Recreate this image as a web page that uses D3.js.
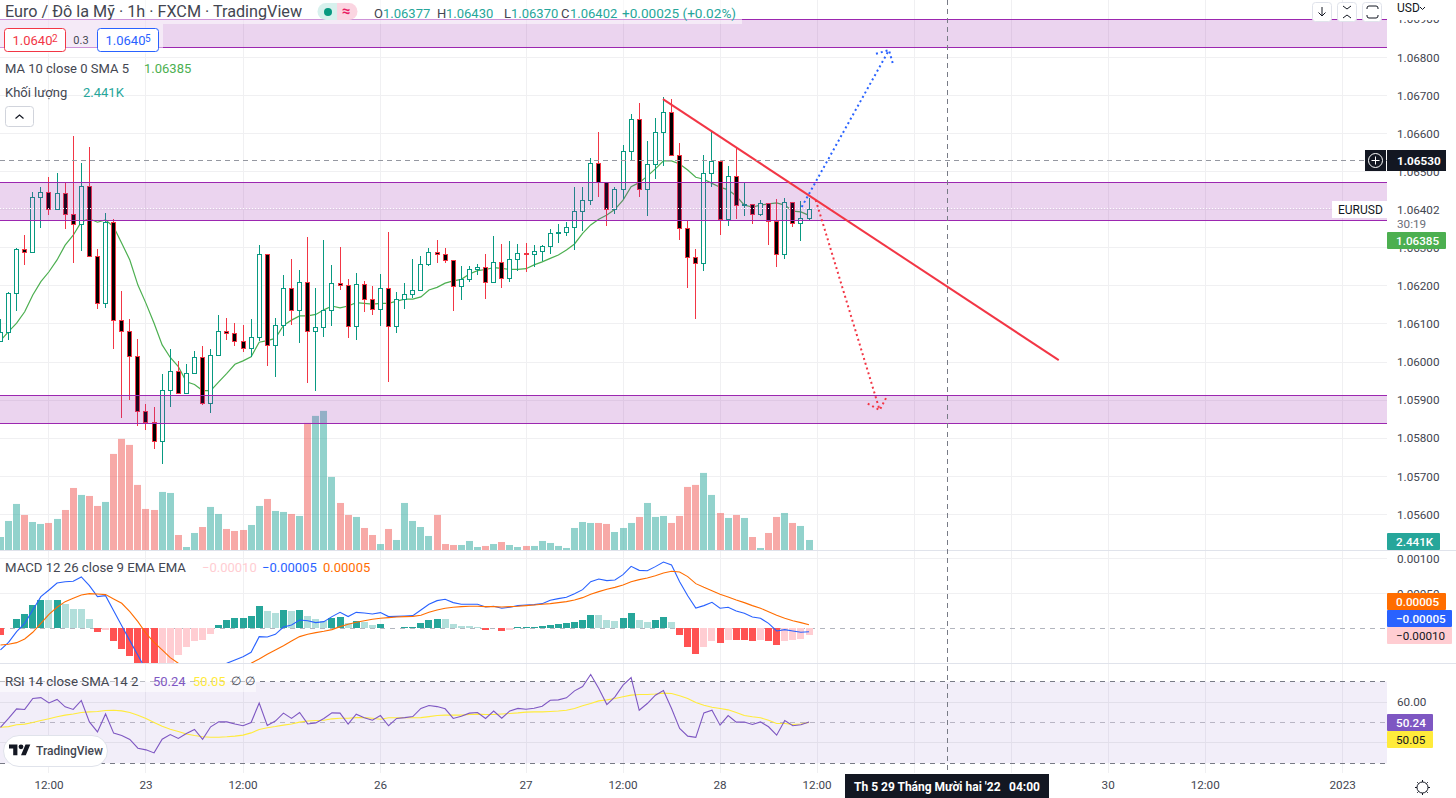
<!DOCTYPE html>
<html>
<head>
<meta charset="utf-8">
<script src="https://cdn.jsdelivr.net/npm/d3@7"></script>
<style>
    html, body { margin: 0; padding: 0; background: #fff; overflow: hidden; }
    svg { display: block; font-family: Roboto, "Noto Sans", sans-serif; }
</style>
</head>
<body>
<div id="chart"></div>
<script>
// hourly EURUSD candles
const opens = [
    1.06056,1.06078,1.06180,1.06296,1.06288,1.06432,1.06446,1.06401,1.06443,1.06388,
    1.06362,1.06461,1.06278,1.06154,1.06367,1.06110,1.06081,1.06015,1.05871,1.05842,
    1.05792,1.05926,1.05976,1.05918,1.05970,1.06012,1.05892,1.06018,1.06081,1.06075,
    1.06054,1.06036,1.06065,1.06283,1.06044,1.06096,1.06194,1.06136,1.06209,1.06081,
    1.06091,1.06136,1.06207,1.06201,1.06094,1.06204,1.06165,1.06138,1.06194,1.06094,
    1.06165,1.06178,1.06188,1.06257,1.06288,1.06283,1.06267,1.06199,1.06217,1.06243,
    1.06249,1.06209,1.06262,1.06220,1.06270,1.06285,1.06283,1.06291,1.06304,1.06338,
    1.06341,1.06354,1.06396,1.06425,1.06522,1.06472,1.06401,1.06453,1.06553,1.06637,
    1.06453,1.06519,1.06603,1.06656,1.06543,1.06351,1.06275,1.06259,1.06495,1.06527,
    1.06375,1.06488,1.06411,1.06414,1.06388,1.06417,1.06369,1.06283,1.06419,1.06364,
    1.06377
];
const closes = [
    1.06078,1.06180,1.06297,1.06288,1.06432,1.06446,1.06402,1.06443,1.06388,1.06362,
    1.06461,1.06278,1.06154,1.06367,1.06110,1.06081,1.06015,1.05871,1.05842,1.05792,
    1.05926,1.05976,1.05918,1.05970,1.06012,1.05892,1.06018,1.06081,1.06075,1.06054,
    1.06036,1.06065,1.06283,1.06044,1.06096,1.06194,1.06136,1.06209,1.06081,1.06091,
    1.06136,1.06207,1.06201,1.06094,1.06204,1.06165,1.06138,1.06194,1.06094,1.06165,
    1.06178,1.06188,1.06257,1.06288,1.06283,1.06267,1.06199,1.06217,1.06243,1.06249,
    1.06209,1.06262,1.06220,1.06270,1.06285,1.06283,1.06291,1.06304,1.06338,1.06341,
    1.06354,1.06396,1.06425,1.06522,1.06472,1.06401,1.06453,1.06553,1.06637,1.06453,
    1.06519,1.06603,1.06656,1.06543,1.06351,1.06275,1.06259,1.06495,1.06527,1.06375,
    1.06488,1.06411,1.06414,1.06388,1.06417,1.06369,1.06283,1.06419,1.06364,1.06377,
    1.06402
];
const highs = [
    1.06113,1.06184,1.06299,1.06333,1.06446,1.06459,1.06486,1.06496,1.06471,1.06593,
    1.06522,1.06564,1.06297,1.06391,1.06375,1.06186,1.06112,1.06060,1.05889,1.05881,
    1.05968,1.06033,1.06002,1.05995,1.06028,1.06041,1.06033,1.06123,1.06115,1.06102,
    1.06096,1.06112,1.06306,1.06283,1.06116,1.06228,1.06270,1.06241,1.06327,1.06194,
    1.06320,1.06254,1.06301,1.06217,1.06233,1.06212,1.06199,1.06230,1.06341,1.06183,
    1.06207,1.06270,1.06278,1.06299,1.06320,1.06299,1.06267,1.06252,1.06252,1.06257,
    1.06283,1.06330,1.06309,1.06317,1.06309,1.06312,1.06306,1.06306,1.06348,1.06362,
    1.06367,1.06459,1.06459,1.06535,1.06603,1.06472,1.06459,1.06569,1.06650,1.06679,
    1.06579,1.06640,1.06695,1.06690,1.06574,1.06369,1.06296,1.06543,1.06606,1.06530,
    1.06514,1.06564,1.06469,1.06414,1.06425,1.06417,1.06427,1.06430,1.06419,1.06422,
    1.06430
];
const lows = [
    1.06053,1.06058,1.06134,1.06255,1.06288,1.06353,1.06387,1.06401,1.06350,1.06261,
    1.06292,1.06278,1.06140,1.06143,1.06035,1.05854,1.05901,1.05833,1.05822,1.05772,
    1.05733,1.05883,1.05918,1.05918,1.05970,1.05888,1.05867,1.06018,1.06058,1.06042,
    1.06027,1.06014,1.06056,1.05990,1.05961,1.06068,1.06098,1.06051,1.05946,1.05925,
    1.06066,1.06095,1.06189,1.06063,1.06059,1.06132,1.06124,1.06095,1.05948,1.06077,
    1.06140,1.06169,1.06186,1.06252,1.06259,1.06259,1.06135,1.06163,1.06209,1.06229,
    1.06165,1.06209,1.06195,1.06211,1.06238,1.06237,1.06249,1.06264,1.06284,1.06312,
    1.06331,1.06294,1.06343,1.06412,1.06433,1.06357,1.06388,1.06427,1.06528,1.06433,
    1.06383,1.06480,1.06515,1.06543,1.06320,1.06194,1.06113,1.06239,1.06459,1.06333,
    1.06357,1.06375,1.06383,1.06362,1.06383,1.06307,1.06249,1.06270,1.06354,1.06318,
    1.06370
];
const maValues = [
    1.06056,1.06080,1.06102,1.06132,1.06176,1.06211,1.06237,1.06268,1.06307,1.06333,
    1.06368,1.06376,1.06367,1.06373,1.06355,1.06312,1.06268,1.06202,1.06154,1.06102,
    1.06045,1.06012,1.05988,1.05948,1.05941,1.05925,1.05925,1.05948,1.05970,1.05994,
    1.06003,1.06014,1.06052,1.06056,1.06062,1.06096,1.06110,1.06121,1.06121,1.06125,
    1.06137,1.06147,1.06142,1.06147,1.06156,1.06154,1.06152,1.06154,1.06154,1.06160,
    1.06165,1.06165,1.06171,1.06189,1.06196,1.06207,1.06213,1.06217,1.06231,1.06240,
    1.06243,1.06248,1.06246,1.06243,1.06243,1.06245,1.06255,1.06263,1.06272,1.06281,
    1.06294,1.06310,1.06338,1.06360,1.06375,1.06386,1.06401,1.06425,1.06460,1.06471,
    1.06488,1.06507,1.06528,1.06528,1.06520,1.06504,1.06485,1.06480,1.06469,1.06459,
    1.06452,1.06436,1.06412,1.06407,1.06412,1.06415,1.06418,1.06412,1.06396,1.06394,
    1.06385
];
// volume in thousands
const volumes = [
    3.17,7.08,11.23,8.54,6.83,6.35,6.59,7.57,9.76,15.13,
    13.43,13.18,10.74,11.72,23.43,27.10,25.63,15.87,10.01,9.76,
    14.16,13.91,3.66,0.73,4.15,5.61,10.50,8.79,5.13,4.64,
    4.88,6.10,10.74,12.45,9.52,9.28,8.79,8.30,31.00,32.71,
    33.93,17.82,11.47,8.54,8.06,5.37,3.66,1.46,5.13,2.44,
    11.47,7.08,5.61,3.42,8.54,1.46,1.22,1.22,2.20,0.73,
    0.98,1.46,1.95,1.22,0.73,0.98,0.98,2.20,1.71,0.98,
    0.49,5.37,6.83,6.59,6.59,6.35,4.39,5.37,6.59,8.06,
    11.47,8.06,8.30,6.59,8.30,15.38,15.87,18.80,13.43,9.03,
    7.81,8.54,7.81,3.17,0.49,4.15,8.06,9.03,6.59,5.86,
    2.441
];
const macdLine = [
    -0.000309,-0.000200,-0.000048,0.000071,0.000262,0.000452,0.000547,0.000647,0.000666,0.000671,
    0.000733,0.000609,0.000452,0.000466,0.000252,0.000038,-0.000176,-0.000386,-0.000595,-0.000738,
    -0.000833,-0.000904,-0.000976,-0.001000,-0.000976,-0.000904,-0.000785,-0.000643,-0.000500,-0.000452,
    -0.000405,-0.000343,-0.000119,-0.000124,-0.000086,0.000019,0.000048,0.000119,0.000109,0.000081,
    0.000095,0.000167,0.000228,0.000167,0.000228,0.000219,0.000205,0.000224,0.000167,0.000171,
    0.000176,0.000181,0.000262,0.000343,0.000395,0.000414,0.000367,0.000343,0.000343,0.000343,
    0.000305,0.000314,0.000286,0.000300,0.000324,0.000333,0.000338,0.000352,0.000400,0.000424,
    0.000443,0.000495,0.000552,0.000666,0.000704,0.000681,0.000690,0.000766,0.000885,0.000828,
    0.000823,0.000881,0.000947,0.000904,0.000666,0.000466,0.000290,0.000324,0.000371,0.000286,
    0.000300,0.000248,0.000214,0.000162,0.000143,0.000071,-0.000038,-0.000019,-0.000038,-0.000057,
    -0.00005
];
const macdSignal = [
    -0.000238,-0.000228,-0.000205,-0.000152,-0.000057,0.000071,0.000200,0.000300,0.000381,0.000428,
    0.000476,0.000495,0.000490,0.000481,0.000419,0.000357,0.000238,0.000095,-0.000071,-0.000200,
    -0.000309,-0.000419,-0.000500,-0.000571,-0.000628,-0.000676,-0.000704,-0.000704,-0.000666,-0.000619,
    -0.000557,-0.000500,-0.000438,-0.000371,-0.000309,-0.000248,-0.000181,-0.000119,-0.000086,-0.000062,
    -0.000043,-0.000019,0.000024,0.000057,0.000086,0.000109,0.000129,0.000143,0.000152,0.000162,
    0.000167,0.000171,0.000186,0.000228,0.000262,0.000286,0.000300,0.000309,0.000314,0.000314,
    0.000309,0.000309,0.000305,0.000309,0.000314,0.000324,0.000333,0.000343,0.000352,0.000367,
    0.000381,0.000405,0.000438,0.000486,0.000524,0.000557,0.000585,0.000619,0.000666,0.000695,
    0.000719,0.000752,0.000790,0.000814,0.000804,0.000738,0.000638,0.000585,0.000538,0.000486,
    0.000447,0.000405,0.000367,0.000324,0.000286,0.000238,0.000186,0.000143,0.000109,0.000081,
    0.00005
];
const macdHist = [
    -0.000095,0.000005,0.000133,0.000205,0.000333,0.000405,0.000403,0.000405,0.000348,0.000276,
    0.000274,0.000133,-0.000048,-0.000024,-0.000180,-0.000295,-0.000395,-0.000540,-0.000560,-0.000580,
    -0.000520,-0.000500,-0.000380,-0.000267,-0.000180,-0.000167,-0.000080,0.000048,0.000119,0.000148,
    0.000150,0.000176,0.000319,0.000248,0.000219,0.000260,0.000248,0.000260,0.000176,0.000133,
    0.000105,0.000148,0.000162,0.000076,0.000105,0.000090,0.000048,0.000062,0.000005,0.000007,
    0.000019,0.000020,0.000076,0.000119,0.000133,0.000130,0.000062,0.000033,0.000033,0.000019,
    -0.000024,0.000005,-0.000038,-0.000024,0.000019,0.000020,0.000021,0.000033,0.000048,0.000062,
    0.000076,0.000090,0.000119,0.000190,0.000188,0.000119,0.000105,0.000148,0.000219,0.000119,
    0.000090,0.000119,0.000162,0.000090,-0.000095,-0.000267,-0.000367,-0.000267,-0.000180,-0.000210,
    -0.000167,-0.000168,-0.000169,-0.000180,-0.000167,-0.000180,-0.000238,-0.000180,-0.000167,-0.000152,
    -0.00010
];
const rsiLine = [
    47.6,52.0,56.7,56.4,61.8,62.2,59.6,61.3,57.7,56.4,
    60.8,50.3,45.4,54.2,44.8,43.6,41.7,37.4,36.6,35.1,
    41.8,44.1,42.2,44.6,46.6,41.8,47.9,50.3,50.3,49.3,
    48.4,50.0,59.5,48.5,50.7,54.6,52.0,54.9,49.3,49.8,
    52.0,54.7,54.6,49.2,54.1,52.3,51.1,53.4,48.4,52.0,
    52.4,52.9,56.9,58.3,57.8,56.7,52.0,53.1,54.6,54.9,
    52.0,55.6,52.1,55.7,56.9,56.5,57.0,58.0,60.9,61.1,
    62.1,65.5,67.6,73.5,66.7,58.8,62.6,68.3,72.0,56.0,
    59.3,63.4,65.7,56.9,47.1,43.3,42.7,54.7,56.0,48.7,
    53.4,50.2,50.2,49.0,50.3,47.9,43.8,51.0,48.4,48.9,
    50.24
];
const rsiSma = [
    47.7,48.0,48.9,49.2,50.0,51.0,51.8,52.8,53.6,54.2,
    54.9,55.2,55.4,55.9,56.0,55.7,54.9,53.6,52.0,50.0,
    48.2,46.7,45.6,44.4,43.6,43.0,42.8,42.8,43.0,43.3,
    43.8,44.9,46.6,47.4,48.0,48.7,49.3,50.2,50.7,51.0,
    51.1,51.8,52.1,52.1,52.4,52.4,52.1,51.6,52.3,52.3,
    52.3,52.3,52.4,52.9,53.4,53.6,53.6,53.6,53.9,54.1,
    53.9,53.9,54.2,54.4,54.7,55.1,55.2,55.2,55.4,55.6,
    56.0,56.9,58.2,59.3,60.6,61.1,61.8,62.6,63.4,63.7,
    63.7,64.0,64.4,64.2,63.1,61.8,59.8,58.5,57.5,56.9,
    56.2,54.9,53.4,52.8,52.3,51.1,49.5,49.5,49.0,49.3,
    50.05
];

// axis ticks (the two blank labels sit behind the crosshair date box in the original)
const priceTicks = [1.069,1.068,1.067,1.066,1.065,1.063,1.062,1.061,1.06,1.059,1.058,1.057,1.056];
const timeTickIndex = [6,18,30,47,65,77,89,101,113,125,137,149,166];
const timeTickLabels = ["12:00","23","12:00","26","27","12:00","28","12:00","","","30","12:00","2023"];
const macdTicks = [0.001,0.0005];
const rsiTicks = [60,40];

// drawings on the chart: [bar index, price]
const zones = [[1.069,1.06826],[1.06472,1.06372],[1.05913,1.05839]];
const trendLine = [[82,1.0669],[130.95,1.06005]];
const longArrow = [[99.16,1.06407],[109.95,1.06819]];
const shortArrow = [[100.9,1.06425],[108.8,1.05874]];
const crosshairIndex = 117.13;
const crosshairPrice = 1.0653;
const lastPrice = 1.06402;

const WIDTH = 1456, HEIGHT = 798, PLOT_W = 1387;
const GRID = "#f0f0f2", SEP = "#e0e3eb", TXT = "#434651";
const GREEN = "#089981", RED = "#f23645";

const svg = d3.select("#chart").append("svg")
    .attr("width", WIDTH)
    .attr("height", HEIGHT);

const x = d3.scaleLinear().domain([0, 100]).range([-0.05, 808.5]);
const yPrice = d3.scaleLinear().domain([1.056, 1.068]).range([514.4, 57.3]);
const yVol = d3.scaleLinear().domain([0, 40]).range([550, 386]);
const yMacd = d3.scaleLinear().domain([0, 0.001]).range([628.3, 558.3]);
const yRsi = d3.scaleLinear().domain([30, 70]).range([763.3, 681.7]);

const bars = d3.range(opens.length);
const px = i => Math.round(x(i));   // candles sit on whole pixels

function clip(id, top, bottom) {
    svg.append("clipPath").attr("id", id).append("rect")
        .attr("x", 0).attr("y", top).attr("width", PLOT_W).attr("height", bottom - top);
}
clip("clip-main", 0, 550);
clip("clip-macd", 551, 663);
clip("clip-rsi", 664, 773);

function label(parent, tx, ty, str, opts) {
    opts = opts || {};
    return parent.append("text")
        .attr("x", tx)
        .attr("y", ty)
        .attr("dy", "0.35em")
        .attr("text-anchor", opts.anchor || "start")
        .attr("font-size", opts.size || 13)
        .attr("font-weight", opts.weight || 400)
        .attr("fill", opts.fill || TXT)
        .text(str);
}

function hline(parent, yy, color, dash, x1) {
    return parent.append("line")
        .attr("x1", x1 || 0).attr("x2", PLOT_W)
        .attr("y1", Math.floor(yy) + 0.5).attr("y2", Math.floor(yy) + 0.5)
        .attr("stroke", color)
        .attr("stroke-dasharray", dash || null);
}

// --- grid
const grid = svg.append("g").attr("class", "grid");
timeTickIndex.forEach(function(d) {
    grid.append("line")
        .attr("x1", px(d) + 0.5).attr("x2", px(d) + 0.5)
        .attr("y1", 0).attr("y2", 773)
        .attr("stroke", GRID);
});
priceTicks.forEach(d => hline(grid, yPrice(d), GRID));
hline(grid, yPrice(1.064), GRID);
macdTicks.forEach(d => hline(grid, yMacd(d), GRID));

// --- main pane
const main = svg.append("g").attr("clip-path", "url(#clip-main)");

main.append("g").selectAll("rect")
    .data(bars)
    .enter().append("rect")
    .attr("x", d => px(d) - 3)
    .attr("y", d => yVol(volumes[d]))
    .attr("width", 7)
    .attr("height", d => yVol(0) - yVol(volumes[d]))
    .attr("fill", d => closes[d] >= opens[d] ? "rgba(38,166,154,0.5)" : "rgba(239,83,80,0.5)");

main.append("path")
    .datum(bars)
    .attr("fill", "none")
    .attr("stroke", "#4caf50")
    .attr("stroke-width", 1.2)
    .attr("d", d3.line().x(d => x(d) + 0.5).y(d => yPrice(maValues[d])));

const candle = main.append("g").selectAll("g")
    .data(bars)
    .enter().append("g");

candle.append("rect")
    .attr("x", d => px(d))
    .attr("y", d => Math.round(yPrice(highs[d])))
    .attr("width", 1)
    .attr("height", d => Math.round(yPrice(lows[d])) - Math.round(yPrice(highs[d])))
    .attr("fill", d => closes[d] >= opens[d] ? GREEN : RED);

candle.append("rect")
    .attr("x", d => px(d) - 1.5)
    .attr("y", d => Math.round(yPrice(Math.max(opens[d], closes[d]))) + 0.5)
    .attr("width", 4)
    .attr("height", d => Math.max(1, Math.round(yPrice(Math.min(opens[d], closes[d]))) - Math.round(yPrice(Math.max(opens[d], closes[d])))))
    .attr("fill", d => closes[d] >= opens[d] ? "#fff" : "#000")
    .attr("stroke", d => closes[d] >= opens[d] ? GREEN : RED)
    .attr("stroke-width", 1);

// supply / demand zones
zones.forEach(function(z) {
    main.append("rect")
        .attr("x", 0).attr("width", PLOT_W)
        .attr("y", yPrice(z[0]))
        .attr("height", yPrice(z[1]) - yPrice(z[0]))
        .attr("fill", "rgba(156,39,176,0.2)");
    hline(main, yPrice(z[0]), "#9c27b0");
    hline(main, yPrice(z[1]), "#9c27b0");
});

// last price dots
hline(main, yPrice(lastPrice), "#fff", "1,2");

const toXY = d => [x(d[0]), yPrice(d[1])];

main.append("path")
    .attr("d", d3.line()(trendLine.map(toXY)))
    .attr("fill", "none")
    .attr("stroke", RED)
    .attr("stroke-width", 2);

function arrow(points, color) {
    const a = toXY(points[0]), b = toXY(points[1]);
    const ang = Math.atan2(a[1] - b[1], a[0] - b[0]);
    const head = s => [b[0] + 13.5 * Math.cos(ang + s), b[1] + 13.5 * Math.sin(ang + s)];
    main.append("path")
        .attr("d", d3.line()([a, b]) + d3.line()([head(Math.PI / 4), b, head(-Math.PI / 4)]))
        .attr("fill", "none")
        .attr("stroke", color)
        .attr("stroke-width", 2)
        .attr("stroke-dasharray", "2,3");
}
arrow(longArrow, "#2962ff");
arrow(shortArrow, RED);

// --- MACD pane
const macd = svg.append("g").attr("clip-path", "url(#clip-macd)");
hline(macd, yMacd(0), "#b2b5be", "5,5");

macd.append("g").selectAll("rect")
    .data(bars)
    .enter().append("rect")
    .attr("x", d => px(d) - 3)
    .attr("width", 7)
    .attr("y", d => Math.round(Math.min(yMacd(0), yMacd(macdHist[d]))))
    .attr("height", d => Math.abs(Math.round(yMacd(macdHist[d])) - Math.round(yMacd(0))))
    .attr("fill", function(d) {
        const v = macdHist[d], prev = d > 0 ? macdHist[d - 1] : 0;
        if (v >= 0) return v > prev ? "#26a69a" : "#b2dfdb";
        return v < prev ? "#ff5252" : "#ffcdd2";
    });

function seriesLine(parent, values, yScale, color) {
    parent.append("path")
        .datum(bars)
        .attr("fill", "none")
        .attr("stroke", color)
        .attr("stroke-width", 1.1)
        .attr("d", d3.line().x(d => x(d) + 0.5).y(d => yScale(values[d])));
}
seriesLine(macd, macdLine, yMacd, "#2962ff");
seriesLine(macd, macdSignal, yMacd, "#ff6d00");

// --- RSI pane
const rsi = svg.append("g").attr("clip-path", "url(#clip-rsi)");
rsi.append("rect")
    .attr("x", 0).attr("width", PLOT_W)
    .attr("y", yRsi(70))
    .attr("height", yRsi(30) - yRsi(70))
    .attr("fill", "rgba(126,87,194,0.1)");
rsiTicks.forEach(d => hline(rsi, yRsi(d), "#e2dfea"));
hline(rsi, yRsi(70), "#787b86", "5,5");
hline(rsi, yRsi(30), "#787b86", "5,5");
hline(rsi, yRsi(50), "#b8b5c4", "5,5");
seriesLine(rsi, rsiSma, yRsi, "#ffeb3b");
seriesLine(rsi, rsiLine, yRsi, "#7e57c2");

// --- pane separators
hline(svg, 550, SEP).attr("x2", WIDTH);
hline(svg, 663, SEP).attr("x2", WIDTH);

// --- crosshair
svg.append("line")
    .attr("x1", px(crosshairIndex) + 0.5).attr("x2", px(crosshairIndex) + 0.5)
    .attr("y1", 0).attr("y2", 773)
    .attr("stroke", "#787b86")
    .attr("stroke-dasharray", "5,4");
hline(svg, yPrice(crosshairPrice), "#9598a1", "5,4");

// --- axes
const priceAxis = svg.append("g")
    .attr("transform", "translate(1387,0)")
    .call(d3.axisRight(yPrice).tickValues(priceTicks).tickFormat(d3.format(".5f")).tickSize(0).tickPadding(10));
const macdAxis = svg.append("g")
    .attr("transform", "translate(1387,0)")
    .call(d3.axisRight(yMacd).tickValues(macdTicks).tickFormat(d3.format(".5f")).tickSize(0).tickPadding(10));
const rsiAxis = svg.append("g")
    .attr("transform", "translate(1387,0)")
    .call(d3.axisRight(yRsi).tickValues([60]).tickFormat(d3.format(".2f")).tickSize(0).tickPadding(10));
const timeAxis = svg.append("g")
    .attr("transform", "translate(0,779)")
    .call(d3.axisBottom(x).tickValues(timeTickIndex).tickFormat((d, i) => timeTickLabels[i]).tickSize(0).tickPadding(2));

[priceAxis, macdAxis, rsiAxis, timeAxis].forEach(function(ax) {
    ax.select(".domain").remove();
    ax.selectAll("text")
        .attr("font-family", "Roboto, 'Noto Sans', sans-serif")
        .attr("font-size", 11.7)
        .attr("fill", TXT);
});

// --- header legends
const legend = svg.append("g");
legend.append("rect").attr("x", 0).attr("y", 0).attr("width", 742).attr("height", 24).attr("fill", "rgba(255,255,255,0.5)");
legend.append("rect").attr("x", 0).attr("y", 24).attr("width", 163).attr("height", 30).attr("fill", "rgba(255,255,255,0.5)");
legend.append("rect").attr("x", 0).attr("y", 670).attr("width", 256).attr("height", 22).attr("fill", "rgba(255,255,255,0.5)");

label(legend, 5, 11, "Euro / Đô la Mỹ · 1h · FXCM · TradingView", { size: 16.2, fill: "#434651" });

legend.append("path")
    .attr("d", "M338,3H326a8.5,8.5 0 0 0 0,17H338Z")
    .attr("fill", "#d7f1ed");
legend.append("path")
    .attr("d", "M337,3H349a8.5,8.5 0 0 1 0,17H337Z")
    .attr("fill", "#fbd5e1");
legend.append("circle").attr("cx", 328).attr("cy", 12).attr("r", 4).attr("fill", GREEN);
label(legend, 346, 11, "≈", { size: 15, anchor: "middle", fill: "#e91e63", weight: 700 });

const ohlc = [["O", "1.06377", 374], ["H", "1.06430", 437], ["L", "1.06370", 504], ["C", "1.06402", 561]];
ohlc.forEach(function(d) {
    label(legend, d[2], 13, d[0], { fill: "#434651" });
    label(legend, d[2] + (d[0] == "L" ? 7 : 9), 13, d[1], { fill: "#26a69a" });
});
label(legend, 622, 13, "+0.00025 (+0.02%)", { size: 13.6, fill: "#26a69a" });

function quoteBox(bx, str, small, color) {
    legend.append("rect")
        .attr("x", bx + 0.5).attr("y", 28.5).attr("width", 61).attr("height", 23).attr("rx", 3)
        .attr("fill", "#fff").attr("stroke", color);
    label(legend, bx + 8.5, 40.5, str, { fill: color });
    label(legend, bx + 48, 38.5, small, { size: 10, fill: color });
}
quoteBox(4, "1.0640", "2", RED);
quoteBox(97, "1.0640", "5", "#2962ff");
label(legend, 81, 40.5, "0.3", { size: 11, anchor: "middle" });

label(legend, 5, 68, "MA 10 close 0 SMA 5");
label(legend, 144, 68, "1.06385", { fill: "#4caf50" });
label(legend, 5, 92, "Khối lượng");
label(legend, 83, 92, "2.441K", { fill: "#26a69a" });

legend.append("rect")
    .attr("x", 5.5).attr("y", 106.5).attr("width", 28).attr("height", 20).attr("rx", 3)
    .attr("fill", "#fff").attr("stroke", "#d1d4dc");
legend.append("path").attr("d", "M15.5,118.5l4,-3.5l4,3.5").attr("fill", "none").attr("stroke", "#131722").attr("stroke-width", 1.2);

label(legend, 5, 567, "MACD 12 26 close 9 EMA EMA", { size: 13.2 });
label(legend, 202, 567, "−0.00010", { fill: "#ffcdd2" });
label(legend, 262, 567, "−0.00005", { fill: "#2962ff" });
label(legend, 323, 567, "0.00005", { fill: "#ff6d00" });

label(legend, 5, 681, "RSI 14 close SMA 14 2", { size: 13.3 });
label(legend, 153, 681, "50.24", { fill: "#7e57c2" });
label(legend, 193, 681, "50.05", { fill: "#ffeb3b" });
label(legend, 231, 681, "∅", { size: 12, fill: "#434651" });
label(legend, 245, 681, "∅", { size: 12, fill: "#434651" });

// TradingView badge
const badge = svg.append("g");
badge.append("rect")
    .attr("x", 3.5).attr("y", 735.5).attr("width", 104).attr("height", 31).attr("rx", 15.5)
    .attr("fill", "#fff").attr("stroke", "#e0e3eb");
badge.append("path")
    .attr("transform", "translate(9,742) scale(0.6)")
    .attr("d", "M14 22H7V11H0V4h14v18zM28 22h-8l7.5-18h8L28 22z")
    .attr("fill", "#131722");
badge.append("circle")
    .attr("transform", "translate(9,742) scale(0.6)")
    .attr("cx", 20).attr("cy", 8).attr("r", 4)
    .attr("fill", "#131722");
label(badge, 36, 751, "TradingView", { size: 12, weight: 500 });

// --- right side price tags
const tags = svg.append("g");

function tag(top, w, str, bg, fg, weight) {
    tags.append("rect")
        .attr("x", 1387).attr("y", top).attr("width", w).attr("height", 17)
        .attr("rx", 1)
        .attr("fill", bg);
    label(tags, 1396, top + 8.5, str, { size: 11.7, fill: fg, weight: weight || 500 });
}

tags.append("rect").attr("x", 1387).attr("y", 0).attr("width", 69).attr("height", 20).attr("fill", "#fff");
label(tags, 1397, 8, "USD", { size: 12, fill: "#131722" });
tags.append("path").attr("d", "M1420,7l2.5,2.5l2.5,-2.5").attr("fill", "none").attr("stroke", "#131722");

// crosshair price with plus button
tags.append("rect").attr("x", 1365).attr("y", 150).attr("width", 21).attr("height", 21).attr("fill", "#131722");
tags.append("circle").attr("cx", 1375.5).attr("cy", 160.5).attr("r", 7).attr("fill", "none").attr("stroke", "#fff");
tags.append("path").attr("d", "M1375.5,156.5v8M1371.5,160.5h8").attr("stroke", "#fff");
tags.append("rect").attr("x", 1387).attr("y", 150).attr("width", 59).attr("height", 21).attr("fill", "#131722");
label(tags, 1397, 160.5, "1.06530", { size: 11.7, fill: "#fff", weight: 700 });

tags.append("rect").attr("x", 1332).attr("y", 201).attr("width", 55).attr("height", 17).attr("fill", "#fff");
label(tags, 1338, 209.5, "EURUSD", { size: 12, fill: "#131722" });
tags.append("rect").attr("x", 1387).attr("y", 201).attr("width", 59).attr("height", 30).attr("fill", "#fff");
label(tags, 1397, 209.5, "1.06402", { size: 11.7 });
label(tags, 1397, 224, "30:19", { size: 11.7, fill: "#6a6d78" });

tag(232, 59, "1.06385", "#4caf50", "#fff");
tag(533, 53, "2.441K", "#26a69a", "#fff");
tag(593, 59, "0.00005", "#ff6d00", "#fff");
tag(610, 65, "−0.00005", "#2962ff", "#fff");
tag(627, 65, "−0.00010", "#ffcdd2", "#131722", 400);
tag(714, 46, "50.24", "#7e57c2", "#fff");
tag(731, 46, "50.05", "#ffeb3b", "#131722", 400);

// corner buttons
[1312, 1337, 1362].forEach(function(bx) {
    tags.append("rect")
        .attr("x", bx + 0.5).attr("y", 2.5).attr("width", 19).attr("height", 19).attr("rx", 3)
        .attr("fill", "#fff").attr("stroke", "#e0e3eb");
});
tags.append("path").attr("d", "M1322,7v9M1318.5,12.5l3.5,3.5l3.5,-3.5").attr("fill", "none").attr("stroke", "#131722");
tags.append("path").attr("d", "M1343,6l4,3l4,-3M1343,18l4,-3l4,3").attr("fill", "none").attr("stroke", "#131722");
tags.append("path").attr("d", "M1367,9v-1a2,2 0 0 1 2,-2h7a2,2 0 0 1 2,2v1M1367,15v1a2,2 0 0 0 2,2h7a2,2 0 0 0 2,-2v-1").attr("fill", "none").attr("stroke", "#131722");

// time axis crosshair box and settings icon
tags.append("rect").attr("x", 845).attr("y", 774).attr("width", 204).attr("height", 24).attr("fill", "#131722");
label(tags, 854, 787, "Th 5 29 Tháng Mười hai '22", { size: 12, fill: "#fff", weight: 700 });
label(tags, 1009, 787, "04:00", { size: 12, fill: "#fff", weight: 700 });

tags.append("circle").attr("cx", 1422.5).attr("cy", 787.5).attr("r", 5.5).attr("fill", "none").attr("stroke", "#131722");
d3.range(8).forEach(function(k) {
    const a = k * Math.PI / 4;
    tags.append("line")
        .attr("x1", 1422.5 + 5.5 * Math.cos(a)).attr("y1", 787.5 + 5.5 * Math.sin(a))
        .attr("x2", 1422.5 + 7.5 * Math.cos(a)).attr("y2", 787.5 + 7.5 * Math.sin(a))
        .attr("stroke", "#131722");
});
</script>
</body>
</html>
